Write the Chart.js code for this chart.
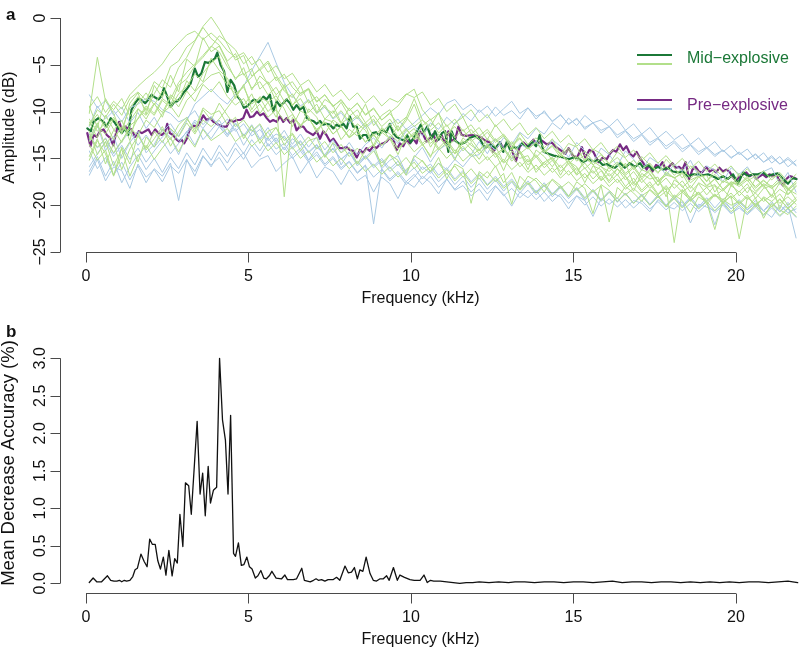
<!DOCTYPE html>
<html><head><meta charset="utf-8">
<script src="https://cdn.jsdelivr.net/npm/chart.js@4.4.1/dist/chart.umd.min.js"></script>
<style>
html,body{margin:0;padding:0;background:#fff;}
#wrap{position:relative;width:799px;height:650px;overflow:hidden;}
#wa{position:absolute;left:0;top:0;width:799px;height:320px;}
#wb{position:absolute;left:0;top:320px;width:799px;height:330px;}
</style></head><body>
<div id="wrap"><div id="wa"><canvas id="ca"></canvas></div><div id="wb"><canvas id="cb"></canvas></div></div>
<script>
// ---------- tick labels / names ----------
const ampTicks = [0, -5, -10, -15, -20, -25];
const ampTickLabels = ["0", "\u22125", "\u221210", "\u221215", "\u221220", "\u221225"];
const freqTicks = [0, 5, 10, 15, 20];
const freqTickLabels = ["0", "5", "10", "15", "20"];
const accTicks = [0, 0.5, 1.0, 1.5, 2.0, 2.5, 3.0];
const accTickLabels = ["0.0", "0.5", "1.0", "1.5", "2.0", "2.5", "3.0"];
const seriesNames = ["Mid\u2212explosive", "Pre\u2212explosive"];

// ---------- Panel a: mean spectra ----------
const freqMid = [0.04,0.15,0.23,0.38,0.54,0.64,0.76,0.89,1.0,1.1,1.2,1.3,1.4,1.51,1.62,1.72,1.82,1.92,2.02,2.13,2.23,2.31,2.4,2.5,2.61,2.71,2.81,2.89,3.02,3.12,3.22,3.35,3.45,3.55,3.66,3.76,3.86,3.97,4.04,4.14,4.25,4.35,4.45,4.56,4.66,4.76,4.86,4.97,5.07,5.17,5.31,5.46,5.56,5.66,5.76,5.87,5.97,6.07,6.17,6.28,6.38,6.48,6.58,6.69,6.79,6.89,6.99,7.1,7.2,7.3,7.4,7.51,7.61,7.71,7.81,7.92,8.02,8.12,8.22,8.33,8.43,8.53,8.63,8.71,8.82,8.92,9.02,9.12,9.25,9.35,9.45,9.55,9.66,9.78,9.88,9.99,10.09,10.17,10.3,10.4,10.5,10.64,10.74,10.85,10.95,11.05,11.15,11.25,11.36,11.51,11.66,11.82,11.97,12.13,12.28,12.43,12.59,12.74,12.84,12.95,13.05,13.15,13.28,13.41,13.57,13.72,13.85,13.96,14.08,14.23,14.39,14.54,14.69,14.85,15.0,15.15,15.3,15.46,15.61,15.76,15.9,16.02,16.18,16.28,16.43,16.58,16.74,16.89,17.05,17.15,17.3,17.45,17.6,17.75,17.91,18.06,18.22,18.37,18.52,18.68,18.83,18.98,19.14,19.29,19.45,19.6,19.75,19.91,20.06,20.22,20.37,20.52,20.68,20.83,20.98,21.14,21.29,21.45,21.6,21.74,21.86];
const ampMid = [-11.8,-12.1,-11.1,-10.7,-11.1,-11.6,-10.7,-11.2,-11.8,-12.3,-11.8,-12.5,-9.8,-9.1,-8.6,-8.8,-9.1,-8.7,-8.2,-8.5,-8.7,-8.4,-7.5,-8.4,-9.5,-9.0,-8.9,-8.6,-7.9,-7.5,-7.0,-5.4,-6.3,-5.9,-4.7,-4.8,-4.6,-4.3,-3.7,-5.0,-5.7,-7.9,-6.6,-7.2,-8.4,-8.8,-9.6,-9.4,-9.0,-8.7,-9.0,-8.4,-8.7,-8.2,-10.0,-8.9,-9.4,-9.1,-8.7,-9.1,-9.8,-9.3,-9.8,-9.5,-10.7,-10.9,-11.0,-11.3,-11.0,-11.4,-11.3,-11.4,-11.8,-11.4,-11.6,-11.3,-11.8,-10.5,-11.6,-11.6,-12.9,-12.5,-12.5,-13.1,-12.3,-12.2,-12.5,-12.0,-12.2,-11.3,-12.3,-12.7,-12.9,-13.1,-12.5,-13.3,-12.8,-12.2,-11.4,-12.2,-11.6,-12.9,-12.1,-13.0,-12.3,-12.1,-14.3,-12.1,-13.1,-13.5,-13.3,-12.8,-12.6,-13.0,-13.9,-13.5,-13.9,-13.3,-14.3,-13.2,-14.1,-13.8,-13.9,-13.4,-13.8,-13.2,-13.7,-12.5,-14.3,-14.5,-14.7,-14.8,-14.9,-15.1,-14.9,-15.0,-15.4,-15.1,-15.3,-15.2,-15.7,-15.6,-15.9,-16.0,-15.5,-16.0,-15.5,-15.9,-15.5,-16.0,-15.7,-16.2,-15.9,-16.2,-16.0,-16.4,-16.5,-16.4,-16.9,-16.7,-16.7,-16.8,-16.7,-16.9,-17.2,-16.9,-17.2,-16.7,-17.7,-16.5,-16.9,-16.7,-16.7,-16.5,-16.9,-16.7,-16.6,-17.2,-17.7,-17.1,-17.2];
const freqPre = [0.04,0.14,0.23,0.33,0.43,0.54,0.64,0.74,0.84,0.95,1.02,1.1,1.2,1.3,1.4,1.51,1.62,1.72,1.82,1.92,2.02,2.13,2.23,2.33,2.43,2.5,2.58,2.68,2.79,2.87,2.94,3.02,3.1,3.2,3.3,3.41,3.51,3.61,3.71,3.82,3.92,4.02,4.12,4.23,4.33,4.43,4.53,4.64,4.74,4.84,4.94,5.05,5.15,5.26,5.36,5.46,5.56,5.66,5.76,5.87,5.97,6.07,6.17,6.28,6.38,6.48,6.58,6.69,6.79,6.89,6.99,7.1,7.2,7.3,7.4,7.51,7.61,7.71,7.81,7.92,8.02,8.12,8.22,8.33,8.43,8.53,8.63,8.73,8.84,8.94,9.05,9.15,9.25,9.35,9.45,9.56,9.66,9.76,9.86,9.97,10.07,10.17,10.27,10.38,10.48,10.58,10.68,10.78,10.94,11.05,11.15,11.25,11.36,11.46,11.56,11.72,11.87,12.02,12.13,12.28,12.43,12.53,12.64,12.74,12.84,12.97,13.1,13.23,13.34,13.46,13.62,13.77,13.87,14.03,14.18,14.33,14.47,14.59,14.75,14.85,14.98,15.11,15.26,15.36,15.49,15.61,15.77,15.9,16.02,16.12,16.22,16.32,16.43,16.53,16.63,16.74,16.84,16.94,17.05,17.15,17.25,17.33,17.43,17.54,17.64,17.74,17.84,17.94,18.04,18.15,18.25,18.35,18.45,18.56,18.66,18.76,18.86,18.96,19.08,19.19,19.29,19.39,19.49,19.6,19.7,19.8,19.9,20.0,20.1,20.22,20.32,20.42,20.52,20.63,20.73,20.83,20.93,21.03,21.14,21.24,21.34,21.45,21.55,21.65,21.76,21.86];
const ampPre = [-12.3,-13.7,-12.5,-12.7,-12.1,-11.9,-12.5,-12.8,-13.6,-11.9,-11.1,-11.9,-11.6,-11.8,-11.9,-12.7,-12.1,-12.3,-12.1,-11.9,-12.5,-11.9,-12.3,-12.5,-12.2,-11.3,-12.3,-12.5,-13.0,-13.2,-13.0,-13.4,-12.9,-11.8,-11.5,-11.6,-11.1,-10.4,-10.9,-10.7,-11.1,-11.3,-11.5,-11.6,-11.6,-10.9,-11.1,-10.9,-10.9,-10.7,-9.8,-10.6,-10.5,-10.0,-10.4,-10.2,-10.7,-11.1,-10.9,-11.1,-10.5,-11.1,-10.7,-11.2,-10.9,-12.0,-11.6,-11.6,-12.1,-12.3,-12.5,-12.1,-12.9,-12.1,-12.5,-13.2,-12.9,-13.4,-13.9,-13.9,-13.8,-14.1,-14.2,-14.9,-14.1,-14.4,-13.9,-14.2,-13.7,-13.9,-13.5,-13.4,-13.2,-12.8,-12.9,-14.1,-13.4,-13.7,-13.0,-13.4,-12.9,-13.4,-12.1,-12.5,-13.2,-12.9,-12.4,-13.2,-12.5,-13.4,-12.1,-13.1,-13.0,-11.6,-12.5,-12.6,-12.5,-12.6,-12.7,-13.1,-13.3,-14.3,-13.8,-13.3,-13.9,-13.3,-14.1,-15.3,-13.8,-13.3,-13.8,-13.0,-13.5,-13.1,-13.5,-13.3,-13.8,-14.1,-14.5,-13.9,-14.7,-14.9,-13.8,-14.9,-14.1,-14.3,-15.4,-14.9,-15.1,-14.5,-14.1,-14.3,-13.5,-14.1,-13.7,-14.5,-14.8,-14.3,-15.0,-15.5,-16.2,-15.7,-16.4,-15.7,-15.9,-15.4,-16.2,-15.9,-15.5,-16.0,-15.9,-16.2,-15.4,-17.2,-16.2,-15.9,-16.4,-16.5,-15.9,-16.4,-16.2,-16.5,-16.0,-16.4,-16.2,-16.4,-17.0,-17.4,-17.0,-16.7,-16.5,-16.9,-16.7,-17.2,-16.9,-16.7,-17.0,-16.7,-16.9,-16.7,-17.4,-17.9,-17.2,-16.9,-17.0,-17.2];

// ---------- Panel a: individual spectra (read at ~0.25 kHz) ----------
const thinFreq = [0.1,0.35,0.6,0.85,1.1,1.35,1.6,1.85,2.1,2.35,2.6,2.85,3.1,3.35,3.6,3.85,4.1,4.35,4.6,4.85,5.1,5.35,5.6,5.85,6.1,6.35,6.6,6.85,7.1,7.35,7.6,7.85,8.1,8.35,8.6,8.85,9.1,9.35,9.6,9.85,10.1,10.35,10.6,10.85,11.1,11.35,11.6,11.85,12.1,12.35,12.6,12.85,13.1,13.35,13.6,13.85,14.1,14.35,14.6,14.85,15.1,15.35,15.6,15.85,16.1,16.35,16.6,16.85,17.1,17.35,17.6,17.85,18.1,18.35,18.6,18.85,19.1,19.35,19.6,19.85,20.1,20.35,20.6,20.85,21.1,21.35,21.6,21.85];
const mid1 = [-11.5,-9.8,-10.6,-9.2,-10.4,-8.6,-7.9,-8.8, -6.8,-7.5,-5.2,-4.6,-3.1,-2.4,-0.9,0.1, -1.2,-2.8,-4.5,-4.0,-6.2,-5.5,-7.1,-6.3, -7.8,-8.5,-7.2,-9.1,-8.4,-9.6,-10.2,-9.0, -10.5,-9.8,-11.2,-10.4,-11.6,-10.8,-12.1,-11.0, -9.2,-11.5,-10.8,-12.3,-11.4,-12.8,-11.9,-13.2, -12.5,-13.6,-12.9,-14.1,-13.2,-14.5,-13.8,-14.9, -14.0,-15.2,-14.4,-15.6,-14.8,-16.1,-15.3,-15.9, -16.4,-15.6,-16.8,-16.0,-17.2,-16.3,-17.5,-16.8, -17.0,-18.1,-17.3,-16.9,-18.0,-17.2,-18.3,-17.5, -17.8,-16.9,-18.2,-17.4,-18.0,-17.1,-18.4,-17.6];
const mid2 = [-13.2,-11.6,-12.4,-10.8,-11.9,-9.6,-8.4,-9.9, -8.1,-6.6,-7.4,-5.3,-4.2,-2.5,-1.0,-2.2, -2.9,-4.6,-3.8,-6.1,-5.4,-7.6,-6.8,-8.2, -7.4,-9.3,-8.6,-10.1,-9.2,-10.8,-9.9,-11.3, -10.6,-12.0,-11.2,-12.6,-11.8,-12.9,-11.5,-13.1, -12.2,-13.4,-12.6,-13.9,-13.0,-14.2,-13.4,-12.9, -14.1,-13.5,-14.6,-13.9,-15.0,-14.2,-15.4,-14.6, -15.7,-14.9,-16.0,-15.2,-16.3,-15.5,-16.6,-15.8, -16.9,-16.1,-17.3,-16.4,-17.6,-16.7,-17.9,-17.1, -18.2,-17.4,-18.6,-17.7,-18.9,-17.9,-18.5,-17.6, -19.0,-18.1,-18.7,-17.8,-19.2,-18.3,-18.9,-18.0];
const mid3 = [-10.8,-12.1,-11.2,-13.0,-11.6,-12.4,-10.7,-9.4, -10.2,-8.6,-9.3,-7.2,-6.5,-5.1,-4.2,-3.1, -1.9,-2.6,-3.4,-4.9,-4.1,-5.6,-4.8,-6.7, -6.0,-7.4,-8.3,-7.6,-9.0,-8.2,-9.5,-8.7, -9.9,-9.1,-10.3,-9.6,-10.9,-10.1,-9.4,-8.2, -7.6,-9.8,-10.9,-10.2,-11.6,-10.8,-12.1,-11.4, -12.6,-11.9,-13.1,-12.4,-13.5,-12.8,-14.0,-13.3, -14.4,-13.7,-14.9,-14.1,-15.3,-14.6,-15.7,-15.0, -16.1,-15.4,-16.6,-15.8,-17.0,-16.2,-17.4,-16.6, -17.1,-16.5,-17.6,-16.9,-17.9,-17.2,-18.3,-17.5, -18.0,-17.3,-18.5,-17.7,-18.2,-17.4,-18.8,-17.9];
const mid4 = [-10.2,-4.2,-8.9,-9.8,-8.6,-10.5,-9.1,-8.0, -9.3,-7.8,-8.7,-6.9,-5.8,-4.9,-4.0,-3.0, -3.6,-5.2,-6.4,-5.9,-7.5,-6.8,-8.2,-7.4, -8.9,-8.1,-9.6,-8.8,-10.2,-9.3,-10.7,-9.9, -11.1,-10.4,-11.6,-10.8,-12.2,-11.3,-12.7,-11.8, -13.0,-12.1,-13.4,-12.6,-13.8,-13.0,-14.2,-13.3, -14.5,-13.7,-14.9,-14.0,-15.3,-14.4,-15.7,-14.8, -16.0,-15.2,-16.4,-15.6,-16.8,-16.0,-17.2,-16.3, -17.6,-16.7,-18.0,-17.1,-18.4,-17.5,-18.8,-17.9, -19.2,-18.3,-19.6,-18.6,-19.9,-18.9,-19.4,-18.7, -19.8,-18.9,-20.2,-19.1,-19.6,-18.8,-20.0,-19.2];
const mid5 = [-12.6,-13.8,-12.9,-14.4,-13.1,-11.8,-12.5,-10.9, -11.7,-10.2,-9.4,-10.6,-8.8,-7.9,-6.9,-6.1, -5.8,-7.2,-8.1,-7.4,-9.2,-8.5,-10.0,-9.1, -19.1,-10.6,-11.4,-10.8,-11.9,-11.1,-12.4,-11.6, -12.8,-12.0,-13.3,-12.5,-13.6,-12.8,-14.0,-13.2, -14.3,-13.5,-14.7,-13.9,-15.0,-14.1,-15.3,-14.5, -15.6,-14.8,-15.9,-15.1,-16.2,-15.4,-16.5,-15.7, -16.8,-16.0,-17.1,-16.3,-17.4,-16.6,-17.7,-16.9, -18.0,-17.2,-18.3,-17.5,-18.6,-17.8,-18.9,-18.1, -24.0,-18.4,-19.2,-18.6,-19.5,-18.8,-19.7,-19.0, -23.6,-19.2,-19.9,-19.3,-20.1,-19.4,-20.3,-19.5];
const mid6 = [-11.4,-10.3,-11.8,-10.6,-12.2,-11.0,-9.7,-10.8, -9.2,-10.1,-8.4,-9.5,-7.8,-8.9,-7.1,-7.9, -6.8,-8.4,-9.3,-8.6,-10.1,-9.2,-10.6,-9.8, -11.0,-10.3,-11.5,-10.7,-12.0,-11.1,-12.4,-11.6, -12.8,-12.1,-13.2,-12.4,-13.6,-12.8,-14.0,-13.1, -12.4,-13.6,-12.9,-14.1,-13.3,-14.5,-13.7,-14.8, -14.0,-15.2,-14.4,-15.5,-14.7,-15.9,-15.1,-16.2, -15.4,-16.5,-15.7,-16.8,-16.0,-17.1,-16.3,-17.4, -16.6,-17.6,-16.9,-17.9,-17.2,-18.2,-17.4,-18.4, -17.7,-18.6,-17.9,-18.9,-18.1,-19.1,-18.3,-19.3, -18.5,-19.4,-18.7,-19.6,-18.9,-19.8,-19.1,-19.9];
const mid7 = [-13.5,-15.2,-14.1,-16.8,-14.6,-13.2,-15.4,-12.7, -13.8,-11.9,-13.0,-11.4,-10.6,-12.2,-9.8,-10.9, -9.1,-10.4,-11.6,-10.9,-12.1,-11.3,-12.8,-11.7, -13.1,-12.3,-13.6,-12.7,-14.0,-13.2,-14.4,-13.5, -14.8,-13.9,-15.1,-14.2,-15.5,-14.6,-15.8,-14.9, -16.1,-15.2,-16.4,-15.5,-16.7,-15.8,-17.0,-16.1, -17.2,-16.4,-17.5,-16.6,-19.9,-16.9,-17.8,-17.1, -18.0,-17.3,-18.2,-17.5,-18.4,-17.7,-18.6,-17.9, -21.8,-18.1,-18.9,-18.2,-19.0,-18.4,-19.2,-18.5, -19.3,-18.6,-19.5,-18.8,-19.6,-18.9,-19.8,-19.0, -19.9,-19.1,-20.0,-19.2,-20.2,-19.3,-20.4,-19.5];
const mid8 = [-14.8,-12.9,-15.6,-13.4,-16.2,-14.0,-12.6,-13.9, -12.1,-13.3,-11.8,-12.7,-11.2,-12.4,-10.9,-11.6, -10.8,-9.6,-8.4,-7.2,-6.3,-5.4,-4.6,-6.1, -7.4,-6.8,-8.1,-7.5,-8.9,-8.2,-9.4,-8.8, -9.9,-9.1,-10.4,-9.7,-10.9,-10.2,-11.3,-10.6, -11.6,-10.9,-12.0,-11.2,-12.4,-11.6,-12.7,-11.9, -13.0,-12.2,-13.3,-12.6,-13.7,-12.9,-14.0,-13.3, -14.3,-13.6,-14.6,-13.9,-15.0,-14.2,-15.3,-14.6, -15.6,-14.9,-15.9,-15.2,-16.2,-15.5,-16.5,-15.8, -16.8,-16.1,-17.1,-16.4,-17.4,-16.7,-17.6,-16.9, -17.8,-17.1,-18.0,-17.3,-18.2,-17.5,-18.4,-17.7];
const mid9 = [-9.6,-8.4,-10.1,-8.9,-9.7,-8.2,-7.3,-6.5, -5.8,-4.9,-3.6,-2.7,-1.8,-1.4,-2.3,-1.6, -2.4,-3.5,-4.2,-3.7,-5.0,-4.4,-5.8,-5.1, -6.5,-5.9,-7.2,-6.6,-7.9,-7.1,-8.4,-7.7, -8.8,-8.0,-9.1,-8.3,-9.4,-8.6,-9.0,-8.1, -8.5,-7.9,-9.3,-8.6,-10.0,-9.2,-10.6,-9.8, -11.1,-10.3,-11.6,-10.8,-12.0,-11.2,-12.5,-11.7, -12.9,-12.1,-13.3,-12.5,-13.7,-12.9,-14.1,-13.3, -14.5,-13.7,-14.9,-14.1,-15.2,-14.4,-15.5,-14.7, -15.8,-15.0,-16.1,-15.3,-16.4,-15.6,-16.6,-15.8, -16.9,-16.1,-17.1,-16.3,-17.3,-16.5,-17.5,-16.7];
const mid10 = [-12.1,-14.6,-13.2,-15.8,-14.0,-16.9,-14.8,-13.6, -15.1,-13.9,-12.8,-14.3,-12.6,-13.8,-11.9,-13.1, -12.5,-11.8,-13.2,-12.4,-13.7,-12.9,-14.2,-13.3, -14.6,-13.8,-15.0,-14.2,-15.4,-14.6,-15.8,-15.0, -16.1,-15.3,-16.4,-15.6,-16.7,-15.9,-17.0,-16.2, -15.4,-16.6,-15.9,-17.1,-16.2,-17.4,-16.5,-17.7, -16.8,-17.9,-17.1,-18.2,-17.4,-18.4,-17.6,-18.7, -17.8,-18.9,-18.0,-19.1,-18.2,-19.3,-18.4,-19.5, -18.6,-19.6,-18.8,-19.8,-19.0,-20.0,-19.1,-20.1, -19.3,-20.3,-19.4,-20.4,-19.6,-20.6,-19.7,-20.7, -19.9,-20.8,-20.0,-21.0,-20.1,-21.1,-20.3,-21.2];
const mid11 = [-12.9,-11.2,-13.8,-12.0,-10.9,-13.1,-9.7,-10.4, -9.1,-10.6,-8.2,-8.9,-6.7,-7.8,-5.9,-4.8, -4.1,-6.9,-7.8,-9.4,-8.1,-10.2,-9.0,-8.3, -9.7,-11.6,-9.9,-10.5,-12.3,-10.8,-11.1,-13.0, -11.9,-12.6,-11.4,-13.8,-12.2,-12.9,-14.6,-12.5, -11.8,-13.4,-14.9,-12.7,-13.6,-15.2,-13.1,-14.0, -15.1,-13.6,-14.4,-16.3,-14.2,-15.0,-14.7,-16.5, -15.4,-14.9,-16.8,-15.3,-15.9,-17.6,-15.8,-16.2, -17.4,-16.1,-16.9,-18.5,-16.6,-17.2,-17.0,-19.1, -17.3,-17.9,-19.4,-17.6,-18.1,-17.8,-19.9,-17.9, -18.6,-17.7,-19.3,-18.2,-17.9,-20.4,-18.3,-18.8];
const mid12 = [-9.4,-11.7,-8.6,-10.2,-12.4,-9.1,-8.0,-10.3, -7.2,-8.5,-6.1,-7.9,-4.4,-5.2,-2.1,-3.6, -3.0,-4.8,-6.6,-5.3,-7.7,-6.2,-7.0,-8.9, -7.1,-9.4,-8.0,-7.6,-10.1,-8.7,-9.3,-11.2, -9.6,-10.8,-9.2,-11.5,-10.4,-9.8,-12.0,-10.7, -8.6,-10.9,-11.6,-10.1,-12.8,-11.2,-10.6,-12.4, -11.7,-13.0,-11.4,-12.6,-14.1,-12.3,-13.5,-12.8, -13.9,-12.9,-14.6,-13.4,-13.8,-15.3,-14.0,-14.5, -15.6,-14.3,-15.0,-16.2,-14.8,-15.7,-16.6,-15.1, -16.0,-17.1,-15.8,-16.4,-17.5,-16.2,-16.9,-18.0, -16.6,-17.4,-16.9,-18.1,-17.0,-16.8,-18.3,-17.4];
const mid13 = [-15.2,-13.1,-14.5,-16.9,-13.8,-15.6,-12.4,-14.1, -12.9,-11.6,-13.7,-12.2,-10.8,-11.9,-9.6,-10.3, -9.9,-11.4,-10.6,-12.9,-11.5,-13.4,-12.1,-11.7, -13.6,-12.4,-14.2,-13.1,-12.8,-14.9,-13.3,-14.4, -13.8,-15.6,-14.1,-13.5,-15.9,-14.6,-15.2,-16.8, -14.7,-15.3,-16.4,-14.9,-17.2,-15.6,-16.1,-19.8, -16.4,-17.1,-15.8,-17.6,-16.5,-18.3,-16.9,-17.4, -18.6,-17.2,-17.9,-19.1,-17.5,-18.2,-20.9,-17.8, -18.4,-19.3,-18.0,-18.7,-19.6,-18.3,-19.0,-20.2, -18.9,-19.5,-20.8,-19.1,-19.7,-22.6,-19.4,-20.0, -19.6,-20.3,-19.2,-21.4,-19.8,-20.5,-21.0,-20.1];
const mid14 = [-11.1,-12.8,-10.4,-11.9,-13.3,-11.5,-10.8,-9.6, -10.4,-8.8,-9.6,-8.1,-7.3,-6.0,-6.8,-4.3, -5.6,-6.4,-8.6,-7.1,-9.8,-8.4,-9.0,-10.6, -8.9,-10.2,-11.8,-9.7,-10.6,-12.4,-10.9,-11.5, -12.7,-11.3,-12.0,-13.6,-11.7,-12.4,-13.2,-11.9, -12.9,-11.6,-13.8,-12.4,-13.1,-14.5,-12.8,-13.6, -14.2,-12.9,-13.7,-15.4,-13.8,-14.3,-16.2,-14.1, -14.8,-15.9,-14.6,-15.2,-16.7,-15.0,-15.6,-17.3, -15.9,-16.8,-15.5,-17.7,-16.2,-16.6,-17.9,-16.4, -17.1,-16.6,-18.2,-17.0,-16.8,-18.6,-17.4,-17.8, -17.5,-18.7,-17.2,-17.9,-19.0,-17.6,-18.1,-19.4];
const pre1 = [-8.2,-9.6,-8.8,-10.4,-9.5,-11.2,-10.1,-11.8, -10.6,-12.1,-11.3,-12.6,-11.0,-9.2,-8.4,-7.6, -8.5,-9.2,-8.1,-7.3,-5.6,-4.1,-2.6,-4.8, -6.9,-8.3,-9.4,-8.7,-10.2,-9.5,-10.8,-10.1, -11.3,-10.6,-11.8,-11.0,-12.2,-11.4,-10.8,-11.9, -11.2,-10.4,-9.6,-10.3,-9.1,-8.7,-9.8,-9.2, -10.1,-9.4,-10.5,-9.7,-8.9,-10.2,-9.6,-10.8, -9.9,-11.1,-10.3,-11.4,-10.7,-11.9,-11.2,-12.3, -11.6,-12.8,-12.1,-13.2,-12.5,-13.6,-12.9,-14.0, -13.3,-14.3,-13.6,-14.6,-13.9,-14.8,-14.1,-15.0, -14.3,-15.2,-14.5,-15.4,-14.7,-15.6,-14.9,-15.7];
const pre2 = [-12.4,-13.9,-12.8,-14.5,-13.2,-12.1,-13.6,-12.5, -13.8,-12.7,-11.9,-13.1,-12.2,-10.9,-11.8,-10.6, -11.5,-12.4,-11.2,-12.6,-11.4,-12.9,-11.7,-13.2, -12.0,-13.5,-12.4,-13.8,-12.7,-14.1,-13.0,-14.4, -13.3,-14.6,-13.5,-12.8,-13.9,-12.6,-13.4,-12.1, -11.5,-12.6,-11.2,-11.9,-10.6,-11.4,-10.2,-11.0, -9.8,-10.7,-9.5,-10.4,-9.9,-10.8,-9.6,-10.5, -10.1,-11.0,-10.4,-11.3,-10.8,-11.7,-11.2,-12.0, -11.6,-12.5,-12.0,-12.9,-12.4,-13.3,-12.8,-13.7, -13.1,-14.0,-13.5,-14.3,-13.8,-14.6,-14.1,-14.9, -14.4,-15.1,-14.6,-15.4,-14.9,-15.6,-15.1,-15.8];
const pre3 = [-11.6,-9.4,-10.8,-9.9,-11.1,-9.6,-9.2,-8.6, -8.9,-9.8,-10.2,-11.1,-10.7,-9.9,-11.4,-10.5, -11.6,-10.8,-12.1,-11.3,-12.6,-11.9,-13.1,-12.4, -12.8,-14.0,-13.2,-14.4,-13.6,-14.8,-14.0,-15.1, -14.3,-15.5,-14.7,-15.8,-15.0,-16.1,-15.3,-16.4, -15.1,-16.2,-15.6,-16.8,-16.0,-17.2,-16.3,-17.5, -16.6,-17.8,-16.9,-18.0,-17.2,-18.3,-17.4,-18.6, -17.6,-18.8,-17.9,-19.0,-18.1,-19.2,-18.3,-19.4, -18.5,-19.6,-18.7,-19.8,-18.9,-20.0,-19.0,-20.1, -19.2,-20.2,-19.3,-20.3,-19.5,-22.1,-19.6,-20.4, -19.7,-20.5,-19.8,-20.6,-19.9,-20.7,-20.0,-23.5];
const pre4 = [-16.4,-14.8,-16.9,-15.3,-17.6,-15.9,-14.6,-16.2, -15.0,-16.5,-14.9,-16.1,-14.4,-15.7,-13.9,-15.2, -13.6,-14.8,-13.3,-14.5,-13.0,-14.2,-12.8,-14.0, -13.4,-14.7,-13.9,-15.2,-14.3,-15.6,-14.8,-16.0, -15.3,-16.5,-15.7,-22.0,-16.1,-17.2,-16.4,-17.5, -16.7,-17.8,-16.9,-18.1,-17.2,-18.3,-17.4,-18.6, -17.7,-18.8,-17.9,-19.0,-18.2,-19.2,-18.4,-19.4, -18.6,-19.6,-18.8,-19.8,-19.0,-20.0,-19.1,-20.1, -19.3,-20.2,-19.4,-20.3,-19.5,-20.4,-19.6,-20.5, -19.7,-20.6,-19.8,-20.7,-19.9,-20.8,-20.0,-20.9, -20.1,-21.0,-20.2,-21.1,-20.3,-21.2,-20.4,-21.3];
const pre5 = [-14.2,-16.1,-14.9,-16.8,-15.4,-17.3,-15.8,-17.6, -16.1,-16.9,-15.5,-19.5,-15.2,-16.4,-14.7,-15.9, -14.3,-15.5,-13.9,-15.1,-13.6,-14.8,-13.4,-14.6, -13.8,-15.0,-14.2,-15.4,-14.6,-15.8,-15.0,-16.2, -15.4,-16.6,-15.8,-17.0,-16.2,-17.4,-16.6,-17.8, -17.0,-15.9,-16.6,-15.5,-16.2,-15.1,-15.9,-14.8, -14.6,-13.4,-14.1,-12.8,-13.5,-12.2,-12.9,-11.8, -12.4,-11.2,-11.9,-10.7,-11.5,-10.4,-11.2,-10.9, -11.6,-10.8,-12.0,-11.3,-12.4,-11.7,-12.8,-12.1, -13.0,-12.4,-13.5,-12.8,-13.9,-13.2,-14.3,-13.6, -14.6,-14.0,-15.1,-14.4,-15.5,-14.8,-15.9,-15.2];
const pre6 = [-15.9,-14.5,-13.2,-14.8,-13.6,-15.1,-13.9,-15.4, -14.2,-13.1,-14.5,-13.4,-12.1,-13.6,-11.8,-12.9, -11.6,-12.7,-11.3,-12.5,-11.9,-13.0,-12.2,-13.4, -12.6,-13.8,-13.1,-14.3,-13.5,-14.7,-13.9,-15.1, -14.4,-15.6,-14.8,-16.0,-15.2,-16.4,-15.6,-16.8, -16.0,-17.2,-16.3,-17.5,-16.6,-17.8,-16.9,-18.1, -17.1,-18.3,-17.3,-18.5,-17.5,-18.7,-17.7,-18.9, -17.9,-19.1,-18.1,-19.3,-18.3,-19.5,-18.5,-19.6, -18.6,-19.7,-18.7,-19.8,-18.8,-19.9,-18.9,-20.0, -19.0,-20.1,-19.1,-20.2,-19.2,-20.3,-19.3,-20.4, -19.4,-20.5,-19.5,-20.6,-19.6,-20.7,-19.7,-20.8];
const pre7 = [-13.1,-11.4,-14.2,-12.6,-15.0,-13.3,-12.1,-14.4, -13.5,-11.9,-12.8,-14.6,-12.4,-11.1,-13.0,-12.0, -10.9,-12.5,-11.8,-13.6,-12.2,-11.4,-13.7,-12.8, -14.1,-12.9,-13.5,-15.2,-13.8,-14.6,-13.4,-15.7, -14.3,-15.8,-14.9,-14.0,-16.1,-15.2,-14.7,-16.6, -14.9,-13.8,-15.4,-14.1,-13.5,-15.0,-13.9,-14.6, -13.2,-14.5,-12.9,-13.8,-15.1,-13.4,-14.0,-13.1, -14.4,-13.0,-13.7,-14.9,-13.3,-14.2,-15.4,-13.9, -14.6,-15.8,-14.2,-15.1,-16.3,-14.9,-15.5,-16.8, -15.6,-16.4,-15.2,-16.9,-15.8,-16.3,-17.5,-16.0, -16.7,-15.9,-17.2,-16.4,-16.0,-17.8,-16.5,-18.6];
const pre8 = [-16.8,-15.1,-17.4,-15.9,-16.3,-18.2,-15.6,-17.0, -16.2,-17.5,-15.8,-16.6,-15.1,-16.9,-14.8,-15.7, -14.9,-16.3,-15.2,-14.4,-16.0,-15.1,-14.7,-16.4, -15.5,-14.8,-16.6,-15.3,-17.1,-15.9,-16.4,-17.8, -16.2,-17.4,-16.8,-18.6,-17.0,-17.7,-19.3,-17.5, -18.1,-16.9,-17.6,-18.8,-17.2,-18.4,-17.9,-19.0, -18.3,-19.5,-18.0,-18.8,-20.1,-18.6,-19.2,-18.4, -19.6,-18.7,-19.1,-20.4,-19.0,-19.5,-21.2,-19.3, -19.9,-19.2,-20.3,-19.5,-19.8,-20.7,-19.4,-20.1, -20.4,-19.6,-21.9,-19.9,-20.2,-20.6,-19.8,-20.9, -20.3,-21.0,-19.9,-20.6,-21.3,-20.0,-20.8,-20.4];
const midSamples = [mid1, mid2, mid3, mid4, mid5, mid6, mid7, mid8, mid9, mid10, mid11, mid12, mid13, mid14];
const preSamples = [pre1, pre2, pre3, pre4, pre5, pre6, pre7, pre8];

// ---------- Panel b: variable importance ----------
const freqB = [0.1,0.22,0.33,0.48,0.66,0.76,0.86,0.95,1.03,1.1,1.18,1.25,1.35,1.44,1.51,1.58,1.69,1.79,1.88,1.96,2.04,2.13,2.21,2.29,2.38,2.46,2.55,2.65,2.73,2.81,2.89,2.98,3.06,3.16,3.24,3.42,3.51,3.59,3.67,3.76,3.83,3.92,4.02,4.11,4.2,4.29,4.37,4.45,4.54,4.6,4.69,4.78,4.86,4.95,5.03,5.11,5.21,5.29,5.38,5.47,5.55,5.64,5.72,5.85,6.02,6.12,6.2,6.38,6.48,6.64,6.72,6.9,7.0,7.08,7.15,7.25,7.35,7.45,7.61,7.71,7.81,7.97,8.07,8.17,8.26,8.35,8.43,8.52,8.62,8.74,8.84,8.94,9.05,9.15,9.25,9.33,9.46,9.58,9.66,9.8,9.97,10.1,10.28,10.4,10.5,10.6,10.7,10.9,11.1,11.3,11.5,11.7,11.9,12.1,12.4,12.7,13.0,13.2,13.5,13.8,14.1,14.4,14.7,15.0,15.3,15.6,15.9,16.2,16.5,16.8,17.1,17.4,17.7,18.0,18.3,18.6,18.9,19.2,19.5,19.8,20.1,20.4,20.7,21.0,21.3,21.6,21.9];
const accB = [0.01,0.07,0.02,0.02,0.10,0.04,0.03,0.03,0.04,0.02,0.04,0.03,0.04,0.09,0.18,0.20,0.39,0.29,0.22,0.59,0.52,0.52,0.30,0.19,0.35,0.11,0.44,0.10,0.33,0.27,0.92,0.49,1.34,1.30,0.92,2.16,1.19,1.47,0.90,1.56,1.07,1.24,1.28,3.00,2.18,1.91,1.19,2.24,0.40,0.36,0.54,0.24,0.25,0.35,0.22,0.19,0.07,0.10,0.17,0.07,0.06,0.10,0.16,0.07,0.06,0.11,0.05,0.05,0.06,0.20,0.04,0.02,0.04,0.06,0.04,0.05,0.03,0.05,0.05,0.08,0.04,0.23,0.14,0.15,0.21,0.06,0.18,0.16,0.35,0.13,0.04,0.03,0.06,0.06,0.10,0.04,0.21,0.04,0.11,0.08,0.05,0.04,0.04,0.11,0.01,0.04,0.03,0.03,0.02,0.01,0.00,0.01,0.01,0.02,0.01,0.02,0.01,0.02,0.02,0.01,0.02,0.02,0.01,0.02,0.02,0.01,0.02,0.03,0.01,0.02,0.02,0.01,0.02,0.02,0.01,0.02,0.01,0.02,0.01,0.02,0.01,0.02,0.02,0.01,0.02,0.03,0.01];

// ---------- styling ----------
const DARK_GREEN = '#1b7837', PURPLE = '#762a83', LIGHT_GREEN = '#b2df8a', LIGHT_BLUE = '#a9c9e3';
const AXIS = '#4a4a4a', TEXT = '#111111';
const FONT = '"Liberation Sans", Arial, Helvetica, sans-serif';

function pts(xs, ys){ const out=[]; for(let i=0;i<Math.min(xs.length,ys.length);i++) out.push({x:xs[i], y:ys[i]}); return out; }
function ds(data, color, width){ return {data, borderColor:color, borderWidth:width, pointRadius:0, fill:false, tension:0, clip:false, borderJoinStyle:'round', borderCapStyle:'round'}; }

function axesPlugin(o){
  return { id:'rAxes', afterDraw(chart){
    const c=chart.ctx, xs=chart.scales.x, ys=chart.scales.y, a=chart.chartArea;
    c.save();
    c.strokeStyle=AXIS; c.lineWidth=1; c.fillStyle=TEXT;
    const yx=Math.round(a.left)+0.5;
    c.beginPath();
    c.moveTo(yx, ys.getPixelForValue(o.yTicks[0])); c.lineTo(yx, ys.getPixelForValue(o.yTicks[o.yTicks.length-1]));
    o.yTicks.forEach(v=>{ const p=Math.round(ys.getPixelForValue(v))+0.5; c.moveTo(yx,p); c.lineTo(yx-10,p); });
    const ax=Math.round(a.bottom+o.xOff)+0.5;
    c.moveTo(xs.getPixelForValue(o.xTicks[0]), ax); c.lineTo(xs.getPixelForValue(o.xTicks[o.xTicks.length-1]), ax);
    o.xTicks.forEach(v=>{ const p=Math.round(xs.getPixelForValue(v))+0.5; c.moveTo(p,ax); c.lineTo(p,ax+10); });
    c.stroke();
    c.font='16px '+FONT; c.textAlign='center'; c.textBaseline='alphabetic';
    o.xTicks.forEach((v,i)=>c.fillText(o.xLabels[i], xs.getPixelForValue(v), ax+28));
    o.yTicks.forEach((v,i)=>{ c.save(); c.translate(a.left-15, ys.getPixelForValue(v)); c.rotate(-Math.PI/2); c.fillText(o.yLabels[i],0,0); c.restore(); });
    c.fillText(o.xTitle, o.xTitleX, ax+50);
    c.save(); c.font=o.yTitleFont+' '+FONT; c.translate(14, o.yTitleY); c.rotate(-Math.PI/2); c.fillText(o.yTitle,0,0); c.restore();
    c.font='bold 17px '+FONT; c.textAlign='left'; c.fillText(o.letter, o.letterX, o.letterY);
    if(o.legend){
      o.legend.forEach(L=>{
        c.lineWidth=2;
        c.strokeStyle=L.c1; c.beginPath(); c.moveTo(637,L.y1); c.lineTo(672,L.y1); c.stroke();
        c.strokeStyle=L.c2; c.beginPath(); c.moveTo(637,L.y1+9); c.lineTo(672,L.y1+9); c.stroke();
        c.fillStyle=L.c1; c.font='16px '+FONT; c.textAlign='left'; c.fillText(L.text, 687, L.base);
      });
    }
    c.restore();
  }};
}

const common = { responsive:true, maintainAspectRatio:false, animation:false, devicePixelRatio:1, events:[],
  plugins:{ legend:{display:false}, tooltip:{enabled:false}, title:{display:false} } };

const dsA = [];
midSamples.forEach(s=>dsA.push(ds(pts(thinFreq,s), LIGHT_GREEN, 1)));
preSamples.forEach(s=>dsA.push(ds(pts(thinFreq,s), LIGHT_BLUE, 1)));
dsA.push(ds(pts(freqMid, ampMid), DARK_GREEN, 2.2));
dsA.push(ds(pts(freqPre, ampPre), PURPLE, 2.2));

new Chart(document.getElementById('ca'), {
  type:'line', data:{datasets:dsA},
  options:Object.assign({}, common, {
    layout:{padding:{left:60, right:0, top:18, bottom:68}},
    scales:{ x:{type:'linear', display:false, min:-0.8, max:21.94}, y:{type:'linear', display:false, min:-25, max:0} }
  }),
  plugins:[axesPlugin({yTicks:ampTicks, yLabels:ampTickLabels, xTicks:freqTicks, xLabels:freqTickLabels, xOff:0,
    xTitle:'Frequency (kHz)', xTitleX:420.5, yTitle:'Amplitude (dB)', yTitleY:127.5, yTitleFont:'17px',
    letter:'a', letterX:6, letterY:20,
    legend:[{c1:DARK_GREEN, c2:LIGHT_GREEN, y1:55, text:seriesNames[0], base:62.5},
            {c1:PURPLE, c2:LIGHT_BLUE, y1:100, text:seriesNames[1], base:109.8}]})]
});

new Chart(document.getElementById('cb'), {
  type:'line', data:{datasets:[ds(pts(freqB, accB), '#111111', 1.3)]},
  options:Object.assign({}, common, {
    layout:{padding:{left:60, right:0, top:38.3, bottom:66.7}},
    scales:{ x:{type:'linear', display:false, min:-0.8, max:21.94}, y:{type:'linear', display:false, min:0, max:3} }
  }),
  plugins:[axesPlugin({yTicks:accTicks, yLabels:accTickLabels, xTicks:freqTicks, xLabels:freqTickLabels, xOff:9.4,
    xTitle:'Frequency (kHz)', xTitleX:420.5, yTitle:'Mean Decrease Accuracy (%)', yTitleY:143, yTitleFont:'18.5px',
    letter:'b', letterX:6, letterY:17})]
});
</script>
</body></html>
